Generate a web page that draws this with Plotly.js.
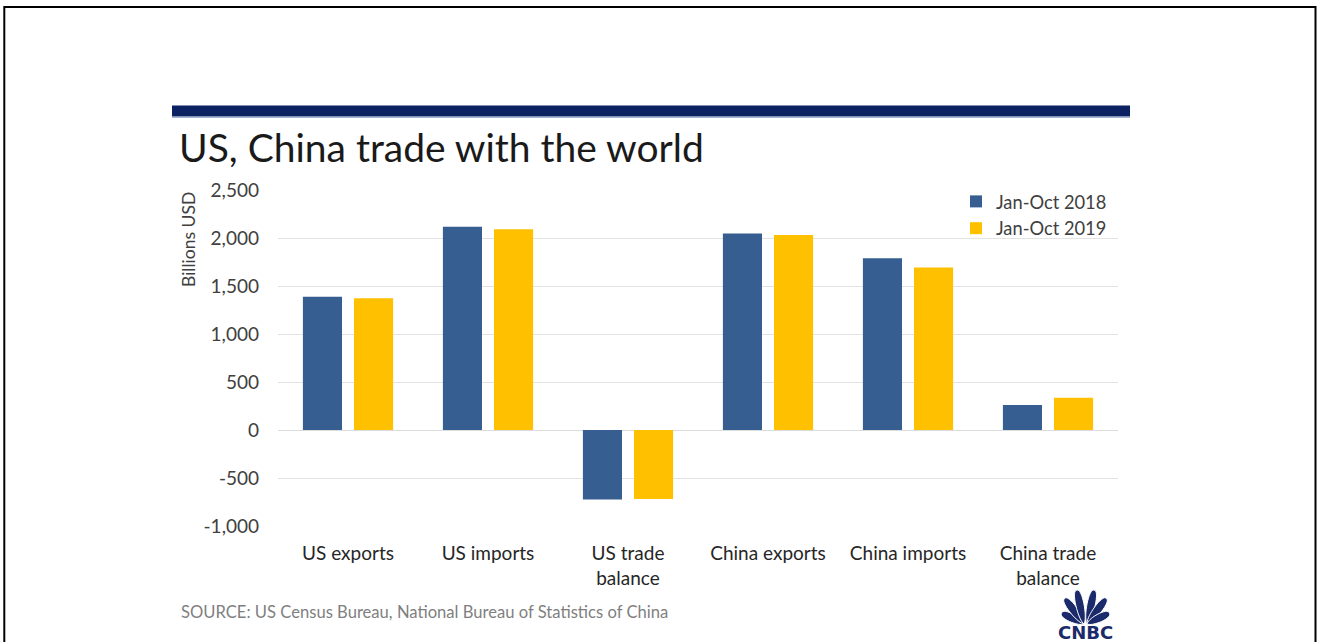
<!DOCTYPE html>
<html>
<head>
<meta charset="utf-8">
<script src="https://cdn.plot.ly/plotly-3.0.1.min.js"></script>
<style>
  html, body { margin: 0; padding: 0; background: #fff; }
  #chart { width: 1318px; height: 642px; }
</style>
</head>
<body>
<div id="chart"></div>
<script>
// ---- data ----
var categories = ['US exports', 'US imports', 'US trade<br>balance', 'China exports', 'China imports', 'China trade<br>balance'];
var series2018Name = 'Jan-Oct 2018';
var series2019Name = 'Jan-Oct 2019';
var values2018 = [1389, 2118, -725, 2048, 1788, 260];
var values2019 = [1372, 2090, -720, 2031, 1694, 337];
var yTickVals = [-1000, -500, 0, 500, 1000, 1500, 2000, 2500];
var yTickText = ['-1,000', '-500', '0', '500', '1,000', '1,500', '2,000', '2,500'];

// ---- geometry helpers (pixel -> paper) ----
var W = 1318, H = 642;
var M = { l: 278, r: 200, t: 190, b: 116 };
var PW = W - M.l - M.r, PH = H - M.t - M.b;
function px(x) { return (x - M.l) / PW; }
function py(y) { return (H - M.b - y) / PH; }
function pt(x, y) { return px(x).toFixed(5) + ',' + py(y).toFixed(5); }

var FONT = 'Lato, "Open Sans", sans-serif';

// CNBC peacock feathers
var shapes = [];
var navy = '#1b2a6b';
(function () {
  var bx = 1085.5, by = 624;
  var angles = [-64, -37, -12, 12, 37, 64];
  var lens = [25, 32, 34.5, 34.5, 32, 25];
  var w = 5;
  for (var i = 0; i < angles.length; i++) {
    var a = angles[i] * Math.PI / 180;
    var dx = Math.sin(a), dy = -Math.cos(a);
    var nx = Math.cos(a), ny = Math.sin(a);
    var L = lens[i];
    var ox = bx + (i < 3 ? -1.5 : 1.5), oy = by;
    var tipx = ox + L * dx, tipy = oy + L * dy;
    var c1 = pt(ox + 0.15 * L * dx + w * nx, oy + 0.15 * L * dy + w * ny);
    var c2 = pt(ox + 1.05 * L * dx + 1.2 * w * nx, oy + 1.05 * L * dy + 1.2 * w * ny);
    var c3 = pt(ox + 1.05 * L * dx - 1.2 * w * nx, oy + 1.05 * L * dy - 1.2 * w * ny);
    var c4 = pt(ox + 0.15 * L * dx - w * nx, oy + 0.15 * L * dy - w * ny);
    var path = 'M' + pt(ox, oy) + ' C' + c1 + ' ' + c2 + ' ' + pt(tipx, tipy) +
               ' C' + c3 + ' ' + c4 + ' ' + pt(ox, oy) + ' Z';
    shapes.push({ type: 'path', xref: 'paper', yref: 'paper', path: path,
      fillcolor: navy, line: { color: '#ffffff', width: 1 }, layer: 'above' });
  }
})();

// frame border
shapes.push({ type: 'rect', xref: 'paper', yref: 'paper',
  x0: px(4.3), x1: px(1315.5), y0: py(7), y1: py(700),
  line: { color: '#000000', width: 2 }, fillcolor: 'rgba(0,0,0,0)', layer: 'below' });
// navy header bar
shapes.push({ type: 'rect', xref: 'paper', yref: 'paper',
  x0: px(172), x1: px(1130), y0: py(116.5), y1: py(105.5),
  line: { width: 0 }, fillcolor: '#0b2161', layer: 'below' });
shapes.push({ type: 'line', xref: 'paper', yref: 'paper',
  x0: px(172), x1: px(1130), y0: py(117.3), y1: py(117.3),
  line: { color: '#8da0c8', width: 1 }, layer: 'below' });

var traces = [
  { type: 'bar', name: series2018Name, x: categories, y: values2018,
    marker: { color: '#365e91', line: { width: 0 } }, hoverinfo: 'x+y' },
  { type: 'bar', name: series2019Name, x: categories, y: values2019,
    marker: { color: '#ffc000', line: { width: 0 } }, hoverinfo: 'x+y' }
];

var layout = {
  width: W, height: H,
  margin: M,
  paper_bgcolor: '#ffffff', plot_bgcolor: '#ffffff',
  font: { family: FONT, color: '#404040', size: 18 },
  title: {
    text: 'US, China trade with the world',
    font: { family: FONT, size: 39, color: '#1a1a1a' },
    xref: 'container', yref: 'container',
    x: 179 / W, xanchor: 'left',
    y: 1 - 148 / H, yanchor: 'middle'
  },
  barmode: 'group',
  bargap: 0.27,
  bargroupgap: 0.235,
  showlegend: true,
  legend: {
    x: px(956), xanchor: 'left', y: py(183), yanchor: 'top',
    bgcolor: 'rgba(0,0,0,0)', borderwidth: 0,
    font: { family: FONT, size: 18.3, color: '#404040' },
    tracegroupgap: 0, itemsizing: 'constant'
  },
  xaxis: {
    type: 'category', showgrid: false, zeroline: false, showline: false,
    ticks: '', tickfont: { family: FONT, size: 19, color: '#262626' },
    ticklabelstandoff: 14, fixedrange: true
  },
  yaxis: {
    range: [-1000, 2500], tickvals: yTickVals, ticktext: yTickText,
    showgrid: true, gridcolor: '#e3e3e3', gridwidth: 1,
    zeroline: true, zerolinecolor: '#dcdcdc', zerolinewidth: 1,
    showline: false, ticks: '',
    tickfont: { family: FONT, size: 19, color: '#404040' },
    ticklabelstandoff: 18, fixedrange: true
  },
  shapes: shapes,
  annotations: [
    { text: 'Billions USD', xref: 'paper', yref: 'paper',
      x: px(188), y: py(240), xanchor: 'center', yanchor: 'middle',
      textangle: -90, showarrow: false,
      font: { family: FONT, size: 17.5, color: '#404040' } },
    { text: 'SOURCE: US Census Bureau, National Bureau of Statistics of China',
      xref: 'paper', yref: 'paper', x: px(179), y: py(612),
      xanchor: 'left', yanchor: 'middle', showarrow: false,
      font: { family: FONT, size: 16.6, color: '#7f7f7f' } },
    { text: '<b>CNBC</b>', xref: 'paper', yref: 'paper', x: px(1085.5), y: py(632),
      xanchor: 'center', yanchor: 'middle', showarrow: false,
      font: { family: '"DejaVu Sans", "Liberation Sans", sans-serif', size: 18, color: navy } }
  ]
};

Plotly.newPlot('chart', traces, layout, { displayModeBar: false, staticPlot: false });
</script>
</body>
</html>
